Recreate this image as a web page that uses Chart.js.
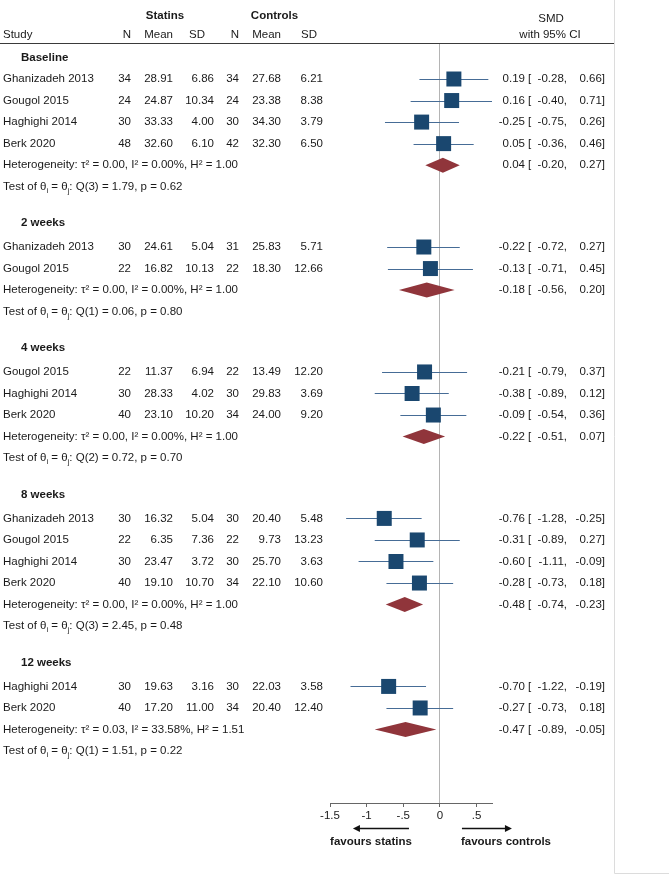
<!DOCTYPE html>
<html>
<head>
<meta charset="utf-8">
<script src="https://cdn.jsdelivr.net/npm/chart.js@4.4.1/dist/chart.umd.min.js"></script>
<style>
  html, body { margin: 0; padding: 0; background: #fff; }
  canvas { display: block; }
</style>
</head>
<body>
<canvas id="forest" width="669" height="874"></canvas>
<script>
// subgroups (time points)
const sectionNames = ['Baseline', '2 weeks', '4 weeks', '8 weeks', '12 weeks'];

// one entry per study row, in display order
const studySection = [0, 0, 0, 0, 1, 1, 2, 2, 2, 3, 3, 3, 3, 4, 4];
const studyNames = ['Ghanizadeh 2013', 'Gougol 2015', 'Haghighi 2014', 'Berk 2020',
  'Ghanizadeh 2013', 'Gougol 2015',
  'Gougol 2015', 'Haghighi 2014', 'Berk 2020',
  'Ghanizadeh 2013', 'Gougol 2015', 'Haghighi 2014', 'Berk 2020',
  'Haghighi 2014', 'Berk 2020'];
const nStatins = [34, 24, 30, 48, 30, 22, 22, 30, 40, 30, 22, 30, 40, 30, 40];
const meanStatins = [28.91, 24.87, 33.33, 32.60, 24.61, 16.82, 11.37, 28.33, 23.10, 16.32, 6.35, 23.47, 19.10, 19.63, 17.20];
const sdStatins = [6.86, 10.34, 4.00, 6.10, 5.04, 10.13, 6.94, 4.02, 10.20, 5.04, 7.36, 3.72, 10.70, 3.16, 11.00];
const nControls = [34, 24, 30, 42, 31, 22, 22, 30, 34, 30, 22, 30, 34, 30, 34];
const meanControls = [27.68, 23.38, 34.30, 32.30, 25.83, 18.30, 13.49, 29.83, 24.00, 20.40, 9.73, 25.70, 22.10, 22.03, 20.40];
const sdControls = [6.21, 8.38, 3.79, 6.50, 5.71, 12.66, 12.20, 3.69, 9.20, 5.48, 13.23, 3.63, 10.60, 3.58, 12.40];
const smd = [0.19, 0.16, -0.25, 0.05, -0.22, -0.13, -0.21, -0.38, -0.09, -0.76, -0.31, -0.60, -0.28, -0.70, -0.27];
const ciLow = [-0.28, -0.40, -0.75, -0.36, -0.72, -0.71, -0.79, -0.89, -0.54, -1.28, -0.89, -1.11, -0.73, -1.22, -0.73];
const ciHigh = [0.66, 0.71, 0.26, 0.46, 0.27, 0.45, 0.37, 0.12, 0.36, -0.25, 0.27, -0.09, 0.18, -0.19, 0.18];

// pooled estimate per subgroup
const pooledSmd = [0.04, -0.18, -0.22, -0.48, -0.47];
const pooledLow = [-0.20, -0.56, -0.51, -0.74, -0.89];
const pooledHigh = [0.27, 0.20, 0.07, -0.23, -0.05];
const tau2 = [0.00, 0.00, 0.00, 0.00, 0.03];
const iSquared = [0.00, 0.00, 0.00, 0.00, 33.58];
const hSquared = [1.00, 1.00, 1.00, 1.00, 1.51];
const qDf = [3, 1, 2, 3, 1];
const qStat = [1.79, 0.06, 0.72, 2.45, 1.51];
const qP = [0.62, 0.80, 0.70, 0.48, 0.22];

// x axis
const tickValues = [-1.5, -1, -0.5, 0, 0.5];
const tickLabels = ['-1.5', '-1', '-.5', '0', '.5'];

const FONT = "'Liberation Sans', Arial, Helvetica, sans-serif";
const FS = 11.5;
const TXT = '#1a1a1a';
const NAVY = 'rgb(26,71,111)';
const CI_COL = 'rgb(70,108,150)';
const MAROON = 'rgb(144,53,59)';

// row layout (in row units, 1 = one line)
const PITCH = 21.54;
const rowY = [], hetRow = [], testRow = [], headRow = [];
let cur = 0;
sectionNames.forEach((s, k) => {
  headRow.push(cur - (k === 0 ? 0.97 : 1.11));
  let n = 0;
  studySection.forEach((sec, i) => {
    if (sec === k) { rowY[i] = cur + n; n++; }
  });
  hetRow.push(cur + n);
  testRow.push(cur + n + 1);
  cur = cur + n + 1 + 2.8;
});

const f2 = v => v.toFixed(2);

function txt(ctx, s, x, y, align, bold) {
  ctx.font = (bold ? 'bold ' : '') + FS + 'px ' + FONT;
  ctx.textAlign = align || 'left';
  ctx.fillText(s, x, y);
}

// draw text pieces, some of them as subscripts
function runs(ctx, parts, x, y) {
  ctx.textAlign = 'left';
  parts.forEach(p => {
    if (typeof p === 'string') {
      ctx.font = FS + 'px ' + FONT;
      ctx.fillText(p, x, y);
      x += ctx.measureText(p).width;
    } else {
      ctx.font = '7.5px ' + FONT;
      ctx.fillText(p.sub, x, y + 4);
      x += ctx.measureText(p.sub).width;
    }
  });
}

const forestPlugin = {
  id: 'forest',
  beforeDatasetsDraw(chart) {
    const ctx = chart.ctx, xs = chart.scales.x, ys = chart.scales.y;
    ctx.save();
    // confidence intervals
    ctx.strokeStyle = CI_COL;
    ctx.lineWidth = 1.1;
    studyNames.forEach((s, i) => {
      const y = Math.round(ys.getPixelForValue(rowY[i])) + 0.5;
      ctx.beginPath();
      ctx.moveTo(xs.getPixelForValue(ciLow[i]), y);
      ctx.lineTo(xs.getPixelForValue(ciHigh[i]), y);
      ctx.stroke();
    });
    // pooled diamonds
    ctx.fillStyle = MAROON;
    sectionNames.forEach((s, k) => {
      const y = ys.getPixelForValue(hetRow[k]);
      const h = 7.5;
      ctx.beginPath();
      ctx.moveTo(xs.getPixelForValue(pooledLow[k]), y);
      ctx.lineTo(xs.getPixelForValue(pooledSmd[k]), y - h);
      ctx.lineTo(xs.getPixelForValue(pooledHigh[k]), y);
      ctx.lineTo(xs.getPixelForValue(pooledSmd[k]), y + h);
      ctx.closePath();
      ctx.fill();
    });
    ctx.restore();
  },
  afterDraw(chart) {
    const ctx = chart.ctx, xs = chart.scales.x, ys = chart.scales.y, ca = chart.chartArea;
    ctx.save();
    ctx.fillStyle = TXT;
    ctx.textBaseline = 'middle';

    // column headers
    txt(ctx, 'Statins', 165, 16, 'center', true);
    txt(ctx, 'Controls', 274.5, 16, 'center', true);
    txt(ctx, 'SMD', 551, 19, 'center');
    txt(ctx, 'Study', 3, 35, 'left');
    txt(ctx, 'N', 131, 35, 'right');
    txt(ctx, 'Mean', 173, 35, 'right');
    txt(ctx, 'SD', 205, 35, 'right');
    txt(ctx, 'N', 239, 35, 'right');
    txt(ctx, 'Mean', 281, 35, 'right');
    txt(ctx, 'SD', 317, 35, 'right');
    txt(ctx, 'with 95% CI', 550, 35, 'center');

    // header rule
    ctx.strokeStyle = '#3a3a3a';
    ctx.lineWidth = 1;
    ctx.beginPath();
    ctx.moveTo(0, 43.5);
    ctx.lineTo(614, 43.5);
    ctx.stroke();

    // light frame on the right
    ctx.strokeStyle = '#dcdcdc';
    ctx.beginPath();
    ctx.moveTo(614.5, 0);
    ctx.lineTo(614.5, 873.5);
    ctx.lineTo(669, 873.5);
    ctx.stroke();

    const ci = (e, l, h, y) => {
      txt(ctx, f2(e), 525, y, 'right');
      txt(ctx, '[', 528, y, 'left');
      txt(ctx, f2(l) + ',', 567, y, 'right');
      txt(ctx, f2(h) + ']', 605, y, 'right');
    };

    // study rows
    studyNames.forEach((s, i) => {
      const y = ys.getPixelForValue(rowY[i]);
      txt(ctx, s, 3, y, 'left');
      txt(ctx, String(nStatins[i]), 131, y, 'right');
      txt(ctx, f2(meanStatins[i]), 173, y, 'right');
      txt(ctx, f2(sdStatins[i]), 214, y, 'right');
      txt(ctx, String(nControls[i]), 239, y, 'right');
      txt(ctx, f2(meanControls[i]), 281, y, 'right');
      txt(ctx, f2(sdControls[i]), 323, y, 'right');
      ci(smd[i], ciLow[i], ciHigh[i], y);
    });

    // subgroup headers and summaries
    sectionNames.forEach((s, k) => {
      txt(ctx, s, 21, ys.getPixelForValue(headRow[k]), 'left', true);
      const yh = ys.getPixelForValue(hetRow[k]);
      txt(ctx, 'Heterogeneity: \u03c4\u00b2 = ' + f2(tau2[k]) + ', I\u00b2 = ' + f2(iSquared[k]) +
        '%, H\u00b2 = ' + f2(hSquared[k]), 3, yh, 'left');
      ci(pooledSmd[k], pooledLow[k], pooledHigh[k], yh);
      const yt = ys.getPixelForValue(testRow[k]);
      runs(ctx, ['Test of \u03b8', { sub: 'i' }, ' = \u03b8', { sub: 'j' },
        ': Q(' + qDf[k] + ') = ' + f2(qStat[k]) + ', p = ' + f2(qP[k])], 3, yt);
    });

    // favours arrows
    const x0 = xs.getPixelForValue(0);
    const ya = 828.5;
    ctx.strokeStyle = '#111';
    ctx.fillStyle = '#111';
    ctx.lineWidth = 1.4;
    const arrow = (from, to) => {
      const dir = Math.sign(to - from);
      ctx.beginPath();
      ctx.moveTo(from, ya);
      ctx.lineTo(to - dir * 6, ya);
      ctx.stroke();
      ctx.beginPath();
      ctx.moveTo(to, ya);
      ctx.lineTo(to - dir * 7, ya - 3.5);
      ctx.lineTo(to - dir * 7, ya + 3.5);
      ctx.closePath();
      ctx.fill();
    };
    arrow(x0 - 31, x0 - 87);
    arrow(x0 + 22, x0 + 72);
    ctx.fillStyle = TXT;
    txt(ctx, 'favours statins', x0 - 69, 842, 'center', true);
    txt(ctx, 'favours controls', x0 + 66, 842, 'center', true);

    ctx.restore();
  }
};

new Chart(document.getElementById('forest'), {
  type: 'scatter',
  data: {
    datasets: [{
      data: studyNames.map((s, i) => ({ x: smd[i], y: rowY[i] })),
      pointStyle: 'rect',
      pointRadius: 10.6,
      pointBackgroundColor: NAVY,
      pointBorderWidth: 0,
      showLine: false
    }]
  },
  options: {
    responsive: false,
    animation: false,
    events: [],
    layout: { padding: { left: 330, right: 177, top: 44, bottom: 49 } },
    plugins: { legend: { display: false }, tooltip: { enabled: false } },
    scales: {
      x: {
        type: 'linear',
        min: -1.5,
        max: 0.71,
        afterBuildTicks: s => { s.ticks = tickValues.map(v => ({ value: v })); },
        afterFit: s => { s.height = 22; },
        border: { color: '#666', width: 1 },
        grid: {
          color: c => (c.tick && c.tick.value === 0 ? '#b4b4b4' : 'rgba(0,0,0,0)'),
          tickColor: '#666',
          tickLength: 4,
          lineWidth: 1
        },
        ticks: {
          padding: 2,
          maxRotation: 0,
          autoSkip: false,
          color: TXT,
          font: { family: FONT, size: FS },
          callback: (v) => tickLabels[tickValues.indexOf(v)]
        }
      },
      y: {
        type: 'linear',
        display: false,
        reverse: true,
        min: -35 / PITCH,
        max: 724 / PITCH
      }
    }
  },
  plugins: [forestPlugin]
});
</script>
</body>
</html>
